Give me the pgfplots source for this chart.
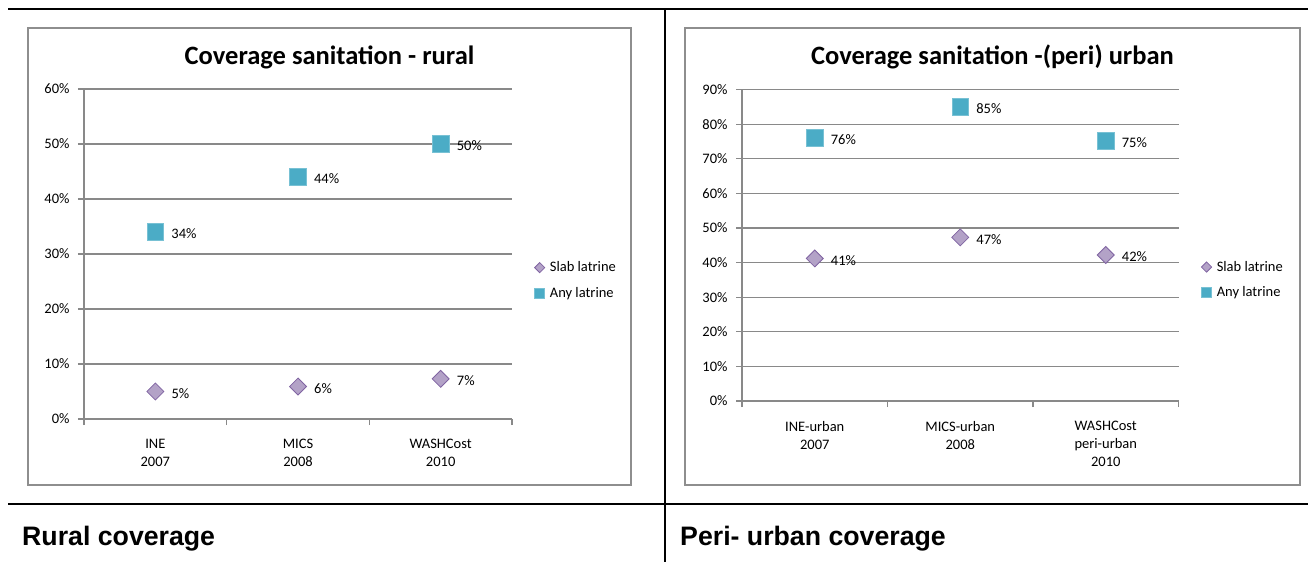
\documentclass[border=0pt]{standalone}
\usepackage{fontspec}
\setmainfont{Carlito}
\newfontfamily\arialfont{Liberation Sans}
\usepackage{pgfplots}
\pgfplotsset{compat=1.18}

\definecolor{gridgray}{HTML}{898989}
\definecolor{boxgray}{HTML}{8E8E8E}
\definecolor{anyblue}{HTML}{4BACC6}
\definecolor{slabfill}{HTML}{B3A2C7}
\definecolor{slabdraw}{HTML}{8064A2}

\newcommand\sm{\fontsize{14.5}{18}\selectfont}

\pgfplotsset{
  chartstyle/.style={
    scale only axis,
    clip=false,
    axis lines*=left,
    axis line style={gridgray, line width=1.2pt},
    ymajorgrids,
    major grid style={gridgray, line width=1.1pt},
    tick align=outside,
    major tick length=6pt,
    minor tick length=6pt,
    ytick style={gridgray, line width=1.2pt},
    major x tick style={draw=none},
    minor x tick style={gridgray, line width=1.2pt},
    ymin=0, xmin=0, xmax=3,
    xtick={0.5,1.5,2.5},
    minor xtick={0,1,2,3},
    /pgf/number format/assume math mode=true,
    yticklabel={\pgfmathprintnumber{\tick}\%},
    ticklabel style={font=\sm},
    yticklabel style={xshift=-5pt},
    xticklabel style={align=center, yshift=-11pt},
    legend style={draw=none, fill=none, font=\sm, row sep=10pt,
      legend cell align=left, anchor=west},
    nodes near coords={\pgfmathprintnumber[fixed,precision=0]{\pgfplotspointmeta}\%},
    nodes near coords style={font=\sm, anchor=west, xshift=12.5pt, yshift=-2pt},
  },
  slab/.style={only marks, mark=square*, mark size=6pt,
    mark options={rotate=45, fill=slabfill, draw=slabdraw, line width=0.8pt},
    legend image code/.code={\path (0.2cm,0cm) ++(-5pt,0pt) (0.2cm,0cm) ++(8pt,0pt);
      \draw[##1, mark size=3.6pt] plot coordinates {(0.2cm,0cm)};}},
  any/.style={only marks, mark=square*, mark size=8.3pt,
    mark options={fill=anyblue, draw=anyblue!75!white, line width=0.6pt},
    legend image code/.code={\path (0.2cm,0cm) ++(-5pt,0pt) (0.2cm,0cm) ++(8pt,0pt);
      \draw[##1, mark size=5pt] plot coordinates {(0.2cm,0cm)};}},
}

\begin{document}
\begin{tikzpicture}[x=1pt, y=1pt]
\path[use as bounding box] (0,0) rectangle (1308,562);

% table rules
\draw[line width=2pt] (8,553) -- (1308,553);
\draw[line width=2pt] (8,58) -- (1308,58);
\draw[line width=2pt] (665,553) -- (665,0);

% chart frames
\draw[boxgray, line width=1.5pt] (28,77) rectangle (631,534);
\draw[boxgray, line width=1.5pt] (685,77) rectangle (1300,534);

% titles
\node[anchor=base, inner sep=0pt, font=\fontsize{26.5}{30}\selectfont\bfseries] at (329.5,497.5) {Coverage sanitation - rural};
\node[anchor=base, inner sep=0pt, font=\fontsize{26.5}{30}\selectfont\bfseries] at (992.5,497.5) {Coverage sanitation -(peri) urban};

% captions
\node[anchor=base west, inner sep=0pt, font=\arialfont\fontsize{26.7}{30}\selectfont\bfseries] at (22,17) {Rural coverage};
\node[anchor=base west, inner sep=0pt, font=\arialfont\fontsize{26.7}{30}\selectfont\bfseries] at (680,17) {Peri- urban coverage};

% rural chart
\begin{axis}[chartstyle,
  at={(84pt,143pt)}, anchor=south west,
  width=428pt, height=330pt,
  ymax=60, ytick={0,10,...,60},
  xticklabels={{INE\\2007},{MICS\\2008},{WASHCost\\2010}},
  legend style={at={(1.045,0.42)}}]
\addplot[slab] coordinates {(0.5,5) (1.5,5.9) (2.5,7.3)};
\addlegendentry{Slab latrine}
\addplot[any] coordinates {(0.5,34) (1.5,44) (2.5,50)};
\addlegendentry{Any latrine}
\end{axis}

% (peri) urban chart
\begin{axis}[chartstyle,
  at={(742pt,161pt)}, anchor=south west,
  width=436.5pt, height=311.4pt,
  ymax=90, ytick={0,10,...,90},
  xticklabels={{INE-urban\\2007},{MICS-urban\\2008},{WASHCost\\peri-urban\\2010}},
  legend style={at={(1.045,0.389)}}]
\addplot[slab] coordinates {(0.5,41.2) (1.5,47.3) (2.5,42.2)};
\addlegendentry{Slab latrine}
\addplot[any] coordinates {(0.5,76) (1.5,85) (2.5,75.2)};
\addlegendentry{Any latrine}
\end{axis}
\end{tikzpicture}
\end{document}
